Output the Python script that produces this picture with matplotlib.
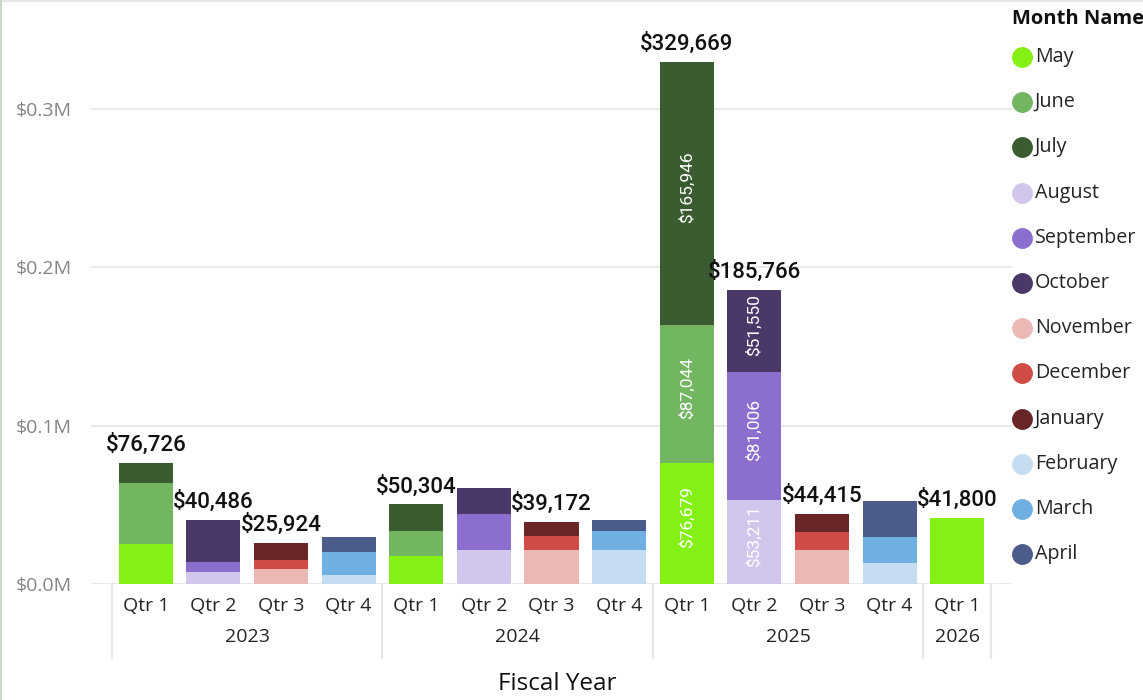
import matplotlib
matplotlib.use("Agg")
import matplotlib.pyplot as plt
from matplotlib.lines import Line2D
from matplotlib.patches import Rectangle

# ---- data -------------------------------------------------------------
quarters = ["Qtr 1", "Qtr 2", "Qtr 3", "Qtr 4",
            "Qtr 1", "Qtr 2", "Qtr 3", "Qtr 4",
            "Qtr 1", "Qtr 2", "Qtr 3", "Qtr 4",
            "Qtr 1"]
years = ["2023", "2024", "2025", "2026"]
year_spans = [(0, 3), (4, 7), (8, 11), (12, 12)]

months = ["May", "June", "July", "August", "September", "October",
          "November", "December", "January", "February", "March", "April"]
month_colors = ["#84F013", "#72B662", "#3A5C30", "#D2C6EC", "#8C6ECF", "#4A3869",
                "#EBB8B5", "#CF4C47", "#682626", "#C6DCF1", "#70AFE1", "#4B5B8A"]

may       = [25300, 0, 0, 0, 17700, 0, 0, 0, 76679, 0, 0, 0, 41800]
june      = [38500, 0, 0, 0, 15800, 0, 0, 0, 87044, 0, 0, 0, 0]
july      = [12926, 0, 0, 0, 16804, 0, 0, 0, 165946, 0, 0, 0, 0]
august    = [0, 7600, 0, 0, 0, 21500, 0, 0, 0, 53210.8, 0, 0, 0]
september = [0, 6300, 0, 0, 0, 22700, 0, 0, 0, 81005.7, 0, 0, 0]
october   = [0, 26586, 0, 0, 0, 16450, 0, 0, 0, 51549.6, 0, 0, 0]
november  = [0, 0, 9500, 0, 0, 0, 21500, 0, 0, 0, 21500, 0, 0]
december  = [0, 0, 5700, 0, 0, 0, 8800, 0, 0, 0, 11300, 0, 0]
january   = [0, 0, 10724, 0, 0, 0, 8872, 0, 0, 0, 11615, 0, 0]
february  = [0, 0, 0, 5700, 0, 0, 0, 21500, 0, 0, 0, 13300, 0]
march     = [0, 0, 0, 14500, 0, 0, 0, 12000, 0, 0, 0, 16400, 0]
april     = [0, 0, 0, 9500, 0, 0, 0, 6900, 0, 0, 0, 22700, 0]

series = [may, june, july, august, september, october,
          november, december, january, february, march, april]

# totals shown above these bars; segment values shown inside these bars
total_label_bars = [0, 1, 2, 4, 6, 8, 9, 10, 12]
inner_label_bars = [8, 9]

# ---- figure -----------------------------------------------------------
W, H = 1143, 700
fig = plt.figure(figsize=(W / 100, H / 100), dpi=100)
fig.patch.set_facecolor("white")

ax_left, ax_right, ax_bottom, ax_top = 91, 1012, 584, 30
ax = fig.add_axes([ax_left / W, (H - ax_bottom) / H,
                   (ax_right - ax_left) / W, (ax_bottom - ax_top) / H])

UI = "Open Sans"
LBL = "Roboto"

x = list(range(len(quarters)))
bottoms = [0.0] * len(x)
bar_w = 0.8
for name, vals, col in zip(months, series, month_colors):
    ax.bar(x, vals, bottom=bottoms, width=bar_w, color=col,
           edgecolor="none", zorder=3, label=name)
    for i in inner_label_bars:
        if vals[i] > 0:
            ax.annotate(f"${vals[i]:,.0f}", (i, bottoms[i] + vals[i] / 2),
                        xytext=(0, 6), textcoords="offset pixels",
                        rotation=90, ha="center", va="center",
                        color="white", fontsize=12.5, family=LBL, zorder=5)
    bottoms = [b + v for b, v in zip(bottoms, vals)]

for i in total_label_bars:
    ax.annotate(f"${bottoms[i]:,.0f}", (i, bottoms[i]),
                xytext=(0, 5), textcoords="offset points",
                ha="center", va="bottom", color="#111111",
                fontsize=16, family=LBL, fontweight="medium", zorder=6)

ax.set_xlim(-0.81, 12.81)
ax.set_ylim(0, 350000)
ax.set_yticks([0, 100000, 200000, 300000])
ax.set_yticklabels(["$0.0M", "$0.1M", "$0.2M", "$0.3M"],
                   family=UI, fontsize=14, color="#858585")
ax.tick_params(axis="y", length=0, pad=14)
ax.set_xticks([])
ax.grid(axis="y", color="#E9E9E9", linewidth=1.5, zorder=0)
for s in ax.spines.values():
    s.set_visible(False)
ax.axhline(0, color="#E9E9E9", linewidth=1.5, zorder=2)

# hierarchical category axis
xt = ax.get_xaxis_transform()
def py(pix):
    return (ax_bottom - pix) / (ax_bottom - ax_top)

for i, q in enumerate(quarters):
    ax.text(i, py(606), q, transform=xt, ha="center", va="center",
            family=UI, fontsize=14, color="#252423", clip_on=False)
for yr, (a, b) in zip(years, year_spans):
    ax.text((a + b) / 2, py(637), yr, transform=xt, ha="center", va="center",
            family=UI, fontsize=14, color="#252423", clip_on=False)
for sep in [-0.5, 3.5, 7.5, 11.5, 12.5]:
    ax.add_line(Line2D([sep, sep], [py(584), py(658)], transform=xt,
                       color="#E6E6E6", linewidth=1.5, clip_on=False))

fig.text(557 / W, 1 - 684 / H, "Fiscal Year", ha="center", va="center",
         family=UI, fontsize=17.5, color="#111111")

# legend
fig.text(1012 / W, 1 - 19 / H, "Month Name", ha="left", va="center",
         family=UI, fontsize=14.5, fontweight="bold", color="#111111")
for k, (name, col) in enumerate(zip(months, month_colors)):
    yc = 57 + 45.2 * k
    fig.add_artist(Line2D([1022 / W], [1 - yc / H], marker="o", markersize=14,
                          markerfacecolor=col, markeredgecolor=col,
                          transform=fig.transFigure, linestyle="none"))
    fig.text(1035 / W, 1 - yc / H, name, ha="left", va="center",
             family=UI, fontsize=14.2, color="#252423")

# frame edges
fig.add_artist(Rectangle((0, 1 - 2 / H), 1, 2 / H, transform=fig.transFigure,
                         facecolor="#E6E6E6", edgecolor="none"))
fig.add_artist(Rectangle((0, 0), 2 / W, 1, transform=fig.transFigure,
                         facecolor="#C9D8C2", edgecolor="none"))

fig.savefig("out.png", dpi=100, facecolor="white")
